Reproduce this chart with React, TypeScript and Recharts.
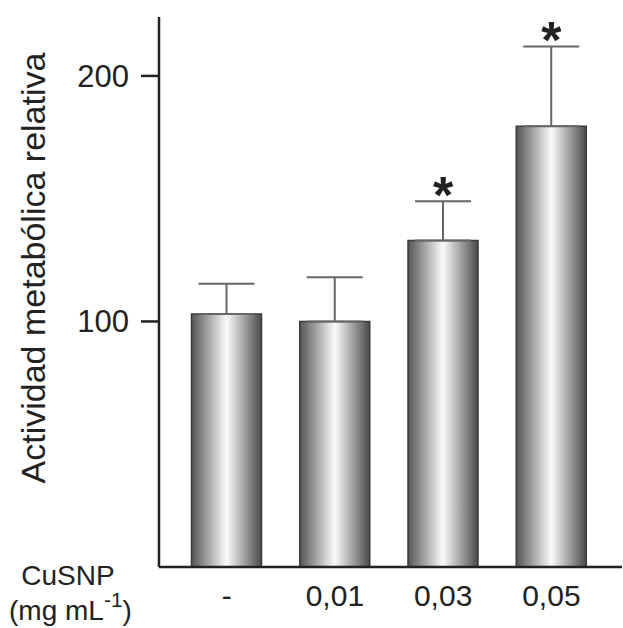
import React from 'react';
import { ComposedChart, Bar, XAxis, YAxis, ErrorBar, Scatter, Label } from 'recharts';

const categories = ['-', '0,01', '0,03', '0,05'];
const means = [103, 100, 133, 179.5];
const errors = [12.4, 18, 16, 32.5];
const significant = [false, false, true, true];
const yTicks = [100, 200];

const data = categories.map((c, i) => ({
  cat: c,
  mean: means[i],
  err: [0, errors[i]],
  star: significant[i] ? means[i] + errors[i] : null,
}));

const FONT = '"Liberation Sans", Arial, Helvetica, sans-serif';

const StarShape = (props: any) => {
  const { cx, cy } = props;
  if (cx == null || cy == null || props.payload?.star == null) return null;
  return (
    <text x={cx} y={cy + 12} textAnchor="middle" fontSize={52} fontWeight="bold" fill="#222" fontFamily={FONT}>
      *
    </text>
  );
};

const YLabel = () => (
  <text transform="translate(45, 268) rotate(-90)" textAnchor="middle" fontSize={34} fill="#222" fontFamily={FONT}>
    Actividad metabólica relativa
  </text>
);

const XLabel = () => (
  <g fontFamily={FONT} fill="#222">
    <text x={68} y={585} textAnchor="middle" fontSize={28}>CuSNP</text>
    <text x={9} y={620} textAnchor="start" fontSize={28}>
      (mg mL<tspan dy={-13} fontSize={21}>-1</tspan><tspan dy={13} fontSize={28}>)</tspan>
    </text>
  </g>
);

export default function App() {
  return (
    <div style={{ position: 'absolute', left: 0, top: 0, background: '#fff' }}>
      <ComposedChart
        width={623}
        height={628}
        data={data}
        margin={{ top: 17, right: 1, bottom: 0, left: 0 }}
      >
        <defs>
          <linearGradient id="barGrad" x1="0" y1="0" x2="1" y2="0">
            <stop offset="0%" stopColor="#555555" />
            <stop offset="50%" stopColor="#fbfbfb" />
            <stop offset="100%" stopColor="#4a4a4a" />
          </linearGradient>
        </defs>
        <XAxis
          dataKey="cat"
          height={61}
          tickLine={false}
          tickSize={0}
          tickMargin={18}
          padding={{ left: 13.5, right: 16.5 }}
          axisLine={{ stroke: '#222', strokeWidth: 2.5 }}
          tick={{ fontSize: 30, fill: '#222', fontFamily: FONT }}
          interval={0}
        >
          <Label content={<XLabel />} />
        </XAxis>
        <YAxis
          width={159}
          domain={[0, 224]}
          ticks={yTicks}
          tickSize={18}
          tickMargin={12}
          axisLine={{ stroke: '#222', strokeWidth: 2.5 }}
          tickLine={{ stroke: '#222', strokeWidth: 2.5 }}
          tick={{ fontSize: 31, fill: '#222', fontFamily: FONT }}
          allowDataOverflow
        >
          <Label content={<YLabel />} />
        </YAxis>
        <Bar
          dataKey="mean"
          barSize={70}
          fill="url(#barGrad)"
          stroke="#3a3a3a"
          strokeWidth={1.5}
          isAnimationActive={false}
        >
          <ErrorBar dataKey="err" direction="y" width={28} stroke="#666" strokeWidth={2} />
        </Bar>
        <Scatter dataKey="star" shape={<StarShape />} isAnimationActive={false} />
      </ComposedChart>
    </div>
  );
}
